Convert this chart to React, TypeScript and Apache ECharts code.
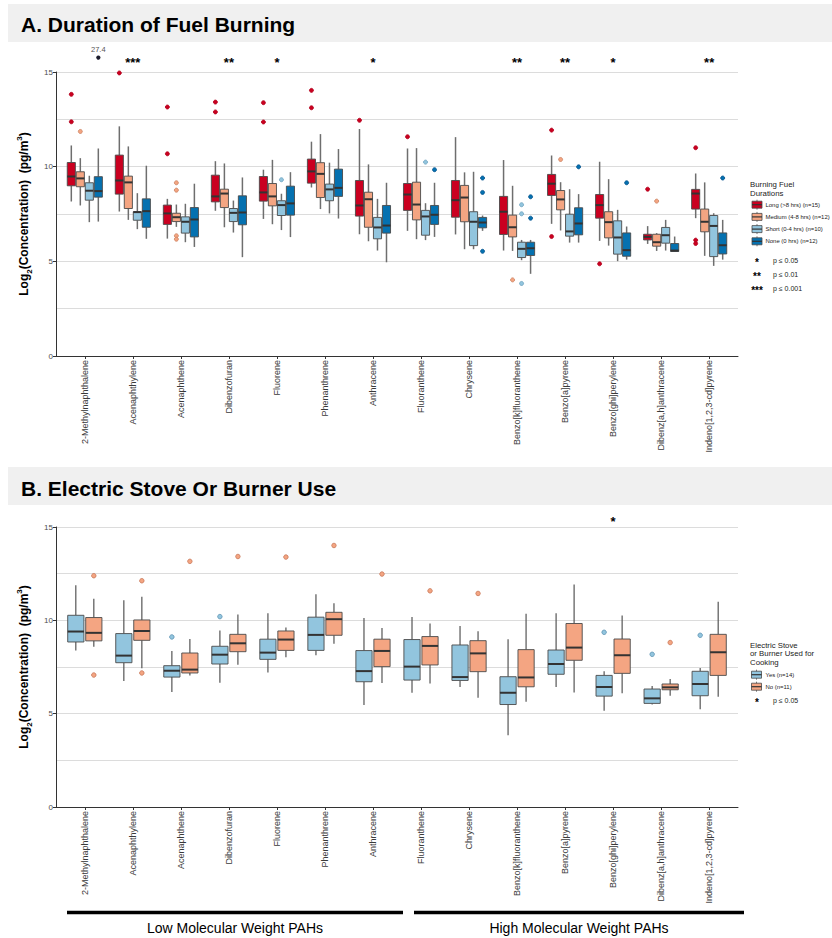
import React, { useEffect, useRef } from 'react';
import * as echarts from 'echarts';

const categories = [
  '2-Methylnaphthalene', 'Acenaphthylene', 'Acenaphthene', 'Dibenzofuran', 'Fluorene',
  'Phenanthrene', 'Anthracene', 'Fluoranthene', 'Chrysene', 'Benzo[k]fluoranthene',
  'Benzo[a]pyrene', 'Benzo[ghi]perylene', 'Dibenz[a,h]anthracene', 'Indeno[1,2,3-cd]pyrene',
];

// [lower whisker, Q1, median, Q3, upper whisker]
const longStats = [
  [8.16, 8.99, 9.48, 10.22, 11.12], [7.63, 8.55, 9.27, 10.61, 12.13], [6.2, 6.95, 7.53, 7.97, 8.3],
  [7.67, 8.14, 8.43, 9.55, 10.29], [7.24, 8.18, 8.64, 9.48, 9.84], [8.9, 9.13, 9.75, 10.4, 11.32],
  [6.43, 7.39, 7.95, 9.27, 11.99], [6.61, 7.69, 8.53, 9.11, 10.96], [6.42, 7.33, 8.23, 9.27, 11.56],
  [5.57, 6.42, 7.62, 8.43, 10.35], [6.98, 8.48, 9.1, 9.59, 10.59], [6.08, 7.28, 7.97, 8.53, 10.26],
  [5.92, 6.13, 6.29, 6.43, 6.86], [7.28, 7.76, 8.58, 8.8, 9.64],
];
const mediumStats = [
  [7.95, 8.94, 9.38, 9.73, 10.45], [7.19, 7.79, 9.17, 9.5, 11.07], [6.82, 7.1, 7.33, 7.54, 8.0],
  [6.8, 7.84, 8.58, 8.81, 10.17], [6.96, 7.93, 8.43, 9.11, 10.36], [7.76, 8.37, 9.62, 10.21, 11.72],
  [6.06, 6.8, 8.28, 8.65, 10.12], [6.17, 7.19, 8.0, 9.18, 10.98], [5.64, 7.09, 8.37, 9.01, 9.7],
  [5.55, 6.29, 6.8, 7.44, 8.99], [6.63, 7.72, 8.27, 8.74, 9.18], [5.83, 6.24, 7.07, 7.62, 9.34],
  [5.55, 5.8, 6.01, 6.43, 6.49], [5.29, 6.56, 7.09, 7.76, 9.17],
];
const shortStats = [
  [7.07, 8.23, 8.73, 9.15, 9.52], [6.7, 7.17, 7.6, 7.62, 8.6], [6.01, 6.49, 7.09, 7.35, 8.04],
  [6.52, 7.1, 7.56, 7.79, 8.21], [6.65, 7.42, 7.97, 8.2, 8.57], [7.53, 8.2, 8.8, 9.08, 10.21],
  [5.57, 6.19, 6.79, 7.32, 8.3], [6.12, 6.38, 7.37, 7.69, 8.07], [5.64, 5.83, 7.09, 7.62, 9.73],
  [5.06, 5.2, 5.66, 6.01, 6.13], [5.99, 6.33, 6.58, 7.49, 8.81], [5.01, 5.38, 6.26, 7.14, 7.72],
  [5.57, 5.96, 6.38, 6.79, 7.19], [4.76, 5.25, 6.87, 7.42, 7.54],
];
const noneStats = [
  [7.1, 8.39, 8.71, 9.47, 10.96], [6.19, 6.8, 7.65, 8.3, 10.05], [5.76, 6.29, 7.21, 7.84, 9.1],
  [5.22, 6.93, 7.58, 8.46, 9.43], [6.28, 7.44, 8.06, 8.97, 9.71], [7.26, 8.43, 8.88, 9.87, 10.93],
  [4.95, 6.49, 6.89, 7.95, 9.15], [6.29, 6.95, 7.46, 7.95, 9.15], [6.61, 6.77, 7.05, 7.32, 7.42],
  [4.34, 5.31, 5.69, 6.01, 6.13], [5.99, 6.4, 7.0, 7.83, 8.55], [5.09, 5.27, 5.59, 6.5, 6.84],
  [5.52, 5.52, 5.57, 5.94, 6.31], [5.09, 5.39, 5.85, 6.5, 7.19],
];
// [category index, value]
const longOutliers = [
  [0, 13.82], [0, 12.37], [1, 14.95], [2, 13.15], [2, 10.68], [3, 13.41], [3, 12.89], [4, 13.38],
  [4, 12.36], [5, 14.03], [5, 13.11], [6, 12.45], [7, 11.58], [10, 11.93], [10, 6.31], [11, 4.87],
  [12, 8.81], [13, 11.0], [13, 6.12], [13, 5.94],
];
const mediumOutliers = [[0, 11.86], [2, 9.15], [2, 8.76], [2, 6.35], [2, 6.17], [9, 4.02], [10, 10.38], [12, 8.18]];
const shortOutliers = [[4, 9.31], [7, 10.24], [9, 7.99], [9, 7.51], [9, 3.83]];
const noneOutliers = [[7, 9.84], [8, 9.4], [8, 8.64], [8, 5.53], [9, 8.41], [9, 7.28], [10, 9.99], [11, 9.15], [13, 9.4]];
const noneOffScale = [[0, 27.4]];

const yesStats = [
  [8.38, 8.84, 9.4, 10.27, 11.88], [6.75, 7.73, 8.11, 9.29, 11.08], [6.16, 6.96, 7.3, 7.57, 8.36],
  [6.66, 7.66, 8.16, 8.61, 9.45], [7.21, 7.91, 8.27, 8.99, 10.38], [8.13, 8.39, 9.22, 10.17, 11.4],
  [5.46, 6.71, 7.28, 8.38, 10.13], [6.12, 6.8, 7.52, 8.97, 10.18], [6.43, 6.78, 6.96, 8.68, 9.7],
  [3.85, 5.49, 6.12, 6.98, 8.99], [6.43, 7.11, 7.66, 8.41, 10.38], [5.15, 5.94, 6.43, 7.05, 7.27],
  [5.49, 5.55, 5.82, 6.32, 6.48], [5.23, 5.96, 6.59, 7.27, 7.45],
];
const noStats = [
  [8.59, 8.9, 9.33, 10.15, 11.15], [7.43, 8.93, 9.43, 10.02, 11.26], [7.05, 7.18, 7.36, 8.25, 9.0],
  [7.62, 8.32, 8.77, 9.25, 10.31], [8.02, 8.39, 8.97, 9.43, 9.61], [8.75, 9.2, 10.06, 10.43, 10.92],
  [6.64, 7.52, 8.36, 8.99, 9.59], [6.62, 7.61, 8.63, 9.13, 9.83], [5.85, 7.25, 8.23, 8.91, 9.41],
  [5.64, 6.44, 6.94, 8.43, 10.35], [6.14, 7.86, 8.54, 9.83, 11.92], [6.09, 7.16, 8.13, 9.0, 10.26],
  [5.96, 6.28, 6.41, 6.59, 6.86], [5.91, 7.05, 8.29, 9.25, 10.99],
];
const yesOutliers = [[2, 9.11], [3, 10.2], [11, 9.36], [12, 8.18], [13, 9.2]];
const noOutliers = [
  [0, 12.39], [0, 7.07], [1, 12.12], [1, 7.18], [2, 13.16], [3, 13.42], [4, 13.39], [5, 14.01],
  [6, 12.48], [7, 11.58], [8, 11.44], [12, 8.81],
];

const sigA = [[1, '***'], [3, '**'], [4, '*'], [6, '*'], [9, '**'], [10, '**'], [11, '*'], [13, '**']];
const sigB = [[11, '*']];

const legendALabels = ['Long (>8 hrs) (n=15)', 'Medium (4-8 hrs) (n=12)', 'Short (0-4 hrs) (n=10)', 'None (0 hrs) (n=12)'];
const legendBLabels = ['Yes (n=14)', 'No (n=11)'];
const sigLegendA = [['*', 'p \u2264 0.05'], ['**', 'p \u2264 0.01'], ['***', 'p \u2264 0.001']];
const sigLegendB = [['*', 'p \u2264 0.05']];
const yTickValues = [0, 5, 10, 15];

const FONT = '"Liberation Sans", Arial, Helvetica, sans-serif';
const colorsA = ['#CA0020', '#F4A582', '#92C5DE', '#0571B0'];
const borderA = ['#B0001C', '#C98060', '#6A9FBC', '#04508A'];
const colorsB = ['#92C5DE', '#F4A582'];
const borderB = ['#5E93B2', '#C8795A'];
const catIdx = categories.map((_, i) => i);

function xAxis(gridIndex: number) {
  return {
    type: 'value', gridIndex, min: -0.6, max: 13.6,
    axisLine: { show: true, onZero: false, lineStyle: { color: '#333', width: 1 } },
    axisTick: { show: true, length: 3, customValues: catIdx, lineStyle: { color: '#333' } },
    axisLabel: {
      show: true, customValues: catIdx, rotate: 90, margin: 4, fontSize: 9, color: '#3a3a3a',
      fontFamily: FONT, formatter: (v: number) => categories[Math.round(v)] ?? '',
    },
    splitLine: { show: false },
  };
}

function yAxis(gridIndex: number) {
  return {
    type: 'value', gridIndex, min: 0, max: 15, interval: 5,
    name: 'Log{sub|2}(Concentration)  (pg/m{sup|3})',
    nameLocation: 'middle', nameGap: 18, nameRotate: 90,
    nameTextStyle: {
      fontSize: 12, fontWeight: 'bold', color: '#000', fontFamily: FONT, lineHeight: 18,
      rich: {
        sub: { fontSize: 8, fontWeight: 'bold', fontFamily: FONT, color: '#000', verticalAlign: 'bottom', lineHeight: 18 },
        sup: { fontSize: 8, fontWeight: 'bold', fontFamily: FONT, color: '#000', verticalAlign: 'top', lineHeight: 18 },
      },
    },
    axisLine: { show: true, onZero: false, lineStyle: { color: '#333', width: 1 } },
    axisTick: { show: true, length: 3, customValues: yTickValues, lineStyle: { color: '#333' } },
    axisLabel: { fontSize: 8, color: '#4d4d4d', margin: 3, fontFamily: FONT },
    splitLine: { show: true, lineStyle: { color: '#dcdcdc', width: 1.2 } },
    minorTick: { show: false, splitNumber: 2 },
    minorSplitLine: { show: true, lineStyle: { color: '#dcdcdc', width: 1.2 } },
  };
}

function boxSeries(stats: number[][], g: number, n: number, color: string, axis: number, wColor: string, wWidth: number) {
  const slot = 0.75 / n;
  const off = (g - (n - 1) / 2) * slot;
  return {
    type: 'custom', xAxisIndex: axis, yAxisIndex: axis, z: 3,
    data: stats.map((s, i) => [i, ...s]),
    encode: { x: 0, y: [1, 2, 3, 4, 5] },
    renderItem: (_p: any, api: any) => {
      const x = api.value(0) + off;
      const cx = api.coord([x, 0])[0];
      const hw = api.size([slot * 0.9, 0])[0] / 2;
      const yl = api.coord([x, api.value(1)])[1];
      const y1 = api.coord([x, api.value(2)])[1];
      const ym = api.coord([x, api.value(3)])[1];
      const y3 = api.coord([x, api.value(4)])[1];
      const yh = api.coord([x, api.value(5)])[1];
      return {
        type: 'group',
        children: [
          { type: 'line', shape: { x1: cx, y1: yh, x2: cx, y2: y3 }, style: { stroke: wColor, lineWidth: wWidth } },
          { type: 'line', shape: { x1: cx, y1: y1, x2: cx, y2: yl }, style: { stroke: wColor, lineWidth: wWidth } },
          { type: 'rect', shape: { x: cx - hw, y: y3, width: hw * 2, height: Math.max(y1 - y3, 0.5) }, style: { fill: color, stroke: '#4a4a4a', lineWidth: 0.9 } },
          { type: 'line', shape: { x1: cx - hw, y1: ym, x2: cx + hw, y2: ym }, style: { stroke: '#333', lineWidth: 2 } },
        ],
      };
    },
  };
}

function outlierSeries(pts: number[][], g: number, n: number, color: string, border: string, axis: number, size: number) {
  const slot = 0.75 / n;
  const off = (g - (n - 1) / 2) * slot;
  return {
    type: 'scatter', xAxisIndex: axis, yAxisIndex: axis, z: 4, clip: false,
    symbol: 'circle', symbolSize: size,
    itemStyle: { color, borderColor: border, borderWidth: 0.8, opacity: 1 },
    data: pts.map(([c, v]) => [c + off, v]),
  };
}

function sigSeries(sig: (number | string)[][], axis: number, yPos: number) {
  return {
    type: 'custom', xAxisIndex: axis, yAxisIndex: axis, clip: false, z: 5,
    data: sig.map(([c]) => [c as number, yPos]),
    encode: { x: 0, y: 1 },
    renderItem: (params: any, api: any) => {
      const p = api.coord([api.value(0), api.value(1)]);
      return {
        type: 'text', x: p[0], y: p[1],
        style: { text: String(sig[params.dataIndex][1]), fontSize: 13, fontWeight: 'bold', fontFamily: FONT, fill: '#000', align: 'center', verticalAlign: 'middle' },
      };
    },
  };
}

function offScaleSeries() {
  const n = 4, g = 3, slot = 0.75 / n;
  const off = (g - (n - 1) / 2) * slot;
  return {
    type: 'custom', xAxisIndex: 0, yAxisIndex: 0, clip: false, z: 5,
    data: noneOffScale.map(([c]) => [c + off, 15.76]),
    encode: { x: 0, y: 1 },
    renderItem: (params: any, api: any) => {
      const p = api.coord([api.value(0), api.value(1)]);
      return {
        type: 'group',
        children: [
          { type: 'circle', shape: { cx: p[0], cy: p[1], r: 2.1 }, style: { fill: '#1b1b2b' } },
          { type: 'text', x: p[0], y: p[1] - 8, style: { text: String(noneOffScale[params.dataIndex][1]), fontSize: 7.5, fontFamily: FONT, fill: '#555', align: 'center', verticalAlign: 'middle' } },
        ],
      };
    },
  };
}

function legendKey(x: number, y: number, color: string) {
  return [
    { type: 'line', shape: { x1: x + 5, y1: y - 5, x2: x + 5, y2: y + 5 }, style: { stroke: '#555', lineWidth: 0.8 } },
    { type: 'rect', shape: { x, y: y - 3.5, width: 10, height: 7 }, style: { fill: color, stroke: '#4a4a4a', lineWidth: 0.8 } },
    { type: 'line', shape: { x1: x, y1: y, x2: x + 10, y2: y }, style: { stroke: '#333', lineWidth: 1.2 } },
  ];
}

function txt(text: string, x: number, y: number, size: number, opts: any = {}) {
  return { type: 'text', x, y, style: { text, fontSize: size, fontFamily: FONT, fill: '#222', align: 'left', verticalAlign: 'middle', ...opts } };
}

export default function App() {
  const ref = useRef<HTMLDivElement>(null);
  useEffect(() => {
    if (!ref.current) return;
    const chart = echarts.init(ref.current, undefined, { renderer: 'svg' });

    const graphics: any[] = [
      { type: 'rect', shape: { x: 8, y: 4, width: 824, height: 38 }, style: { fill: '#f0f0f0' } },
      txt('A. Duration of Fuel Burning', 21, 24, 21, { fontWeight: 'bold', fill: '#000' }),
      { type: 'rect', shape: { x: 8, y: 467, width: 824, height: 38 }, style: { fill: '#f0f0f0' } },
      txt('B. Electric Stove Or Burner Use', 21, 488, 21, { fontWeight: 'bold', fill: '#000' }),
      txt('Burning Fuel', 750, 184, 7.8),
      txt('Durations', 750, 193, 7.8),
      txt('Electric Stove', 750, 645, 7.8),
      txt('or Burner Used for', 750, 653.5, 7.8),
      txt('Cooking', 750, 662, 7.8),
      { type: 'line', shape: { x1: 67, y1: 912.5, x2: 403, y2: 912.5 }, style: { stroke: '#000', lineWidth: 3.5 } },
      { type: 'line', shape: { x1: 414, y1: 912.5, x2: 744, y2: 912.5 }, style: { stroke: '#000', lineWidth: 3.5 } },
      txt('Low Molecular Weight PAHs', 235, 928, 14, { align: 'center', fill: '#000' }),
      txt('High Molecular Weight PAHs', 579, 928, 14, { align: 'center', fill: '#000' }),
    ];
    legendALabels.forEach((l, i) => {
      const y = 204.7 + i * 12.2;
      graphics.push(...legendKey(752, y, colorsA[i]));
      graphics.push(txt(l, 765.5, y, 5.95));
    });
    sigLegendA.forEach(([s, l], i) => {
      const y = 260 + i * 14;
      graphics.push(txt(s, 757, y + 2, 10, { align: 'center', fontWeight: 'bold', fill: '#000' }));
      graphics.push(txt(l, 773, y, 7));
    });
    legendBLabels.forEach((l, i) => {
      const y = 674.7 + i * 12;
      graphics.push(...legendKey(751.5, y, colorsB[i]));
      graphics.push(txt(l, 765.5, y, 5.95));
    });
    sigLegendB.forEach(([s, l], i) => {
      const y = 700 + i * 14;
      graphics.push(txt(s, 757, y + 2, 10, { align: 'center', fontWeight: 'bold', fill: '#000' }));
      graphics.push(txt(l, 773, y, 7));
    });

    const statsA = [longStats, mediumStats, shortStats, noneStats];
    const outA = [longOutliers, mediumOutliers, shortOutliers, noneOutliers];
    const statsB = [yesStats, noStats];
    const outB = [yesOutliers, noOutliers];

    const series: any[] = [];
    statsA.forEach((s, g) => series.push(boxSeries(s, g, 4, colorsA[g], 0, '#6e6e6e', 1.5)));
    outA.forEach((o, g) => series.push(outlierSeries(o, g, 4, colorsA[g], borderA[g], 0, 4)));
    statsB.forEach((s, g) => series.push(boxSeries(s, g, 2, colorsB[g], 1, '#555', 1.2)));
    outB.forEach((o, g) => series.push(outlierSeries(o, g, 2, colorsB[g], borderB[g], 1, 4.5)));
    series.push(sigSeries(sigA, 0, 15.5));
    series.push(sigSeries(sigB, 1, 15.28));
    series.push(offScaleSeries());

    chart.setOption({
      animation: false,
      backgroundColor: '#ffffff',
      textStyle: { fontFamily: FONT },
      grid: [
        { left: 56, top: 72, width: 682, height: 284 },
        { left: 56, top: 527, width: 682, height: 280 },
      ],
      xAxis: [xAxis(0), xAxis(1)],
      yAxis: [yAxis(0), yAxis(1)],
      series,
      graphic: { elements: graphics },
    });
    return () => chart.dispose();
  }, []);
  return <div ref={ref} style={{ position: 'absolute', left: 0, top: 0, width: 832, height: 938 }} />;
}
